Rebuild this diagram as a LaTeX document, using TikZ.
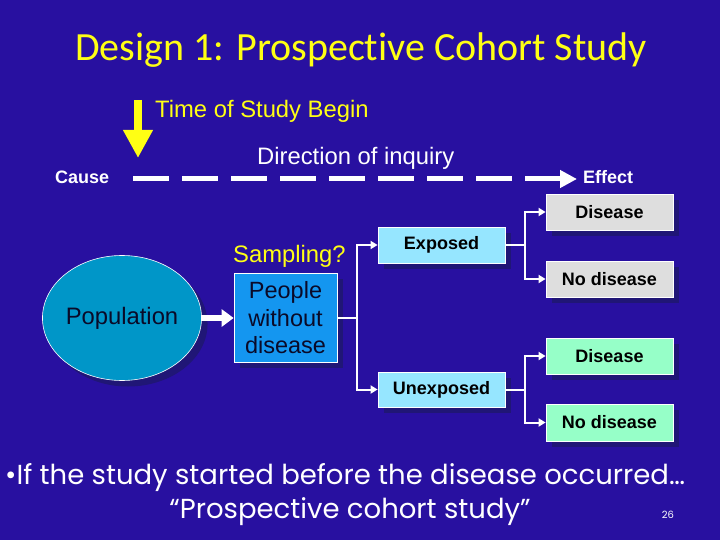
\documentclass[tikz,border=0pt]{standalone}
\usepackage{fontspec}
\setmainfont{Liberation Sans}
\newfontfamily\titlefont[Ligatures=NoCommon]{Carlito}
\newfontfamily\comicfont{Poppins}
\usetikzlibrary{arrows.meta,shapes.geometric,shadows}
\definecolor{bg}{RGB}{40,16,160}
\definecolor{shad}{RGB}{32,22,118}
\definecolor{ttl}{RGB}{255,255,20}
\definecolor{greyf}{RGB}{222,222,222}
\definecolor{greenf}{RGB}{150,255,200}
\definecolor{cyanf}{RGB}{150,230,255}
\definecolor{peoplef}{RGB}{20,150,240}
\definecolor{popf}{RGB}{0,150,200}
\tikzset{
  shd/.style={drop shadow={shadow xshift=6pt,shadow yshift=-6pt,fill=shad,opacity=1}},
  outbox/.style={draw=white,line width=0.8pt,minimum width=127pt,minimum height=36pt,inner sep=0pt,font=\fontsize{18}{21}\selectfont\bfseries,text=black,shd},
  greybox/.style={outbox,fill=greyf},
  greenbox/.style={outbox,fill=greenf},
  expbox/.style={outbox,fill=cyanf},
  conn/.style={white,line width=2pt,-{Triangle[length=7pt,width=8pt]}},
  lbl/.style={font=\fontsize{23.8}{28}\selectfont,inner sep=0pt},
  blbl/.style={font=\fontsize{18}{21}\selectfont\bfseries,text=white,inner sep=0pt}
}
\begin{document}
\begin{tikzpicture}[x=1pt,y=-1pt]
\fill[bg] (0,0) rectangle (720,540);
\useasboundingbox (0,0) rectangle (720,540);

\node[font=\titlefont\fontsize{40}{44}\selectfont,text=ttl,inner sep=0pt] (title) at (361,50) {Design 1: Prospective Cohort Study};

\coordinate (ya) at (138,100);
\coordinate (yb) at (138,158);
\draw[ttl,line width=8pt,-{Triangle[length=28pt,width=28pt]}] (ya) -- (yb);
\node[lbl,text=ttl,anchor=west] (time) at (155,111) {Time of Study Begin};
\node[lbl,text=white,anchor=west] (dir) at (257,158) {Direction of inquiry};

\node[blbl,anchor=west] (cause) at (55,177) {Cause};
\node[blbl,anchor=west] (effect) at (583,177) {Effect};
\coordinate (ds) at (133,179);
\coordinate (de) at (577,179);
\draw[white,line width=5pt,dash pattern=on 36pt off 13pt,-{Triangle[length=17pt,width=17pt]}] (ds) -- (de);

\node[greybox] (d1) at (609.5,212) {Disease};
\node[greybox] (n1) at (609.5,279) {No disease};
\node[greenbox] (d2) at (609.5,356) {Disease};
\node[greenbox,minimum height=37pt] (n2) at (609.5,422.5) {No disease};
\node[expbox] (exp) at (441.5,245) {Exposed};
\node[expbox,minimum height=35pt] (unexp) at (441.5,389.5) {Unexposed};

\node[draw=white,line width=0.8pt,fill=peoplef,minimum width=103pt,minimum height=89pt,inner sep=0pt,shd] (people) at (285.5,317.5) {};
\node[align=center,inner sep=0pt,font=\fontsize{23.5}{27.5}\selectfont,text={rgb,255:red,10;green,10;blue,40}] (ptxt) at (285.5,318) {People\\without\\disease};
\node[lbl,text=ttl,anchor=west] (samp) at (233,256) {Sampling?};

\node[ellipse,draw=white,line width=0.6pt,fill=popf,minimum width=135pt,minimum height=125pt,inner sep=0pt,font=\fontsize{23.8}{28}\selectfont,text={rgb,255:red,10;green,10;blue,40},shd] (pop) at (122,318) {Population};

\draw[white,line width=6pt,-{Triangle[length=12pt,width=17pt]}] (pop.east) -- (pop.east -| people.west);

\coordinate (pj) at (357,318);
\draw[conn] (people.east |- pj) -- (pj) |- (exp.west);
\draw[conn] (people.east |- pj) -- (pj) |- (unexp.west);
\draw[conn] (exp.east) -- (525,245) |- (d1.west);
\draw[conn] (exp.east) -- (525,245) |- (n1.west);
\draw[conn] (unexp.east) -- (525,389.5) |- (d2.west);
\draw[conn] (unexp.east) -- (525,389.5) |- (n2.west);

\node[font=\comicfont\fontsize{27.5}{30}\selectfont,text=white,anchor=west,inner sep=0pt] (b1) at (5,478) {•If the study started before the disease occurred…};
\node[font=\comicfont\fontsize{27.5}{30}\selectfont,text=white,inner sep=0pt] (b2) at (350,512) {“Prospective cohort study”};
\node[font=\comicfont\fontsize{10}{12}\selectfont,text=white,inner sep=0pt] (pg) at (668,515) {26};
\end{tikzpicture}
\end{document}
